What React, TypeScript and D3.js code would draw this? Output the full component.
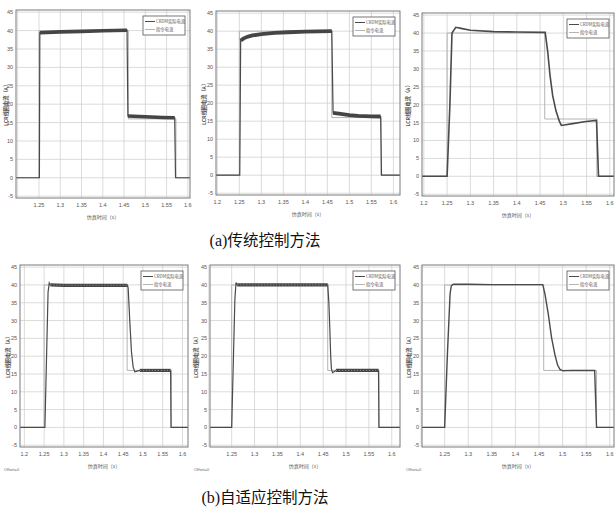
import React from "react";
import * as d3 from "d3";

type Pt = [number, number];

const xTicks = [1.2, 1.25, 1.3, 1.35, 1.4, 1.45, 1.5, 1.55, 1.6];
const yTicks = [-5, 0, 5, 10, 15, 20, 25, 30, 35, 40, 45];
const legendLabels = ["CRDM实际电流", "指令电流"];
const xLabel = "仿真时间（s）";
const yLabel = "LCR线圈电流（A）";
const captionTags = ["(a)", "(b)"];
const captions = ["传统控制方法", "自适应控制方法"];

// command current (same in all six runs)
const command: Pt[] = [
  [1.18, 0], [1.25, 0], [1.25, 40], [1.46, 40], [1.46, 16], [1.572, 16], [1.572, 0], [1.62, 0],
];

// measured CRDM current, traditional control
const actualA1: Pt[] = [
  [1.18, 0], [1.251, 0], [1.252, 39.4], [1.3, 39.65], [1.35, 39.8], [1.4, 39.95], [1.457, 40.1],
  [1.459, 16.8], [1.5, 16.6], [1.54, 16.4], [1.569, 16.3], [1.571, 0], [1.62, 0],
];
const actualA2: Pt[] = [
  [1.18, 0], [1.251, 0], [1.253, 37.4], [1.26, 38.0], [1.27, 38.5], [1.28, 38.8], [1.3, 39.2],
  [1.33, 39.5], [1.36, 39.7], [1.4, 39.85], [1.46, 40.0], [1.463, 17.3], [1.48, 17.0], [1.5, 16.7],
  [1.52, 16.5], [1.55, 16.35], [1.571, 16.3], [1.573, 0], [1.62, 0],
];
const actualA3: Pt[] = [
  [1.18, 0], [1.25, 0], [1.256, 20], [1.2605, 40], [1.2686, 41.6], [1.28, 41.3], [1.3, 40.8],
  [1.35, 40.4], [1.4, 40.3], [1.461, 40.2], [1.4664, 34.8], [1.4714, 28.2], [1.4771, 22.5],
  [1.4843, 18.2], [1.4914, 15.4], [1.4957, 14.2], [1.52, 14.7], [1.5486, 15.3], [1.5714, 15.6],
  [1.5757, 0], [1.62, 0],
];

// measured CRDM current, adaptive control
const actualB1: Pt[] = [
  [1.18, 0], [1.252, 0], [1.26, 38], [1.263, 40.6], [1.266, 40.0], [1.3, 39.9], [1.35, 39.9],
  [1.4, 39.9], [1.461, 39.9], [1.4626, 39.2], [1.4668, 29.7], [1.471, 21.2], [1.4752, 17.0],
  [1.4795, 15.6], [1.4853, 15.8], [1.492, 16.0], [1.53, 16.0], [1.57, 16.0], [1.571, 0], [1.62, 0],
];
const actualB2: Pt[] = [
  [1.18, 0], [1.25, 0], [1.257, 36], [1.2595, 40.7], [1.262, 40.0], [1.3, 40.0], [1.35, 40.0],
  [1.4, 40.0], [1.46, 40.0], [1.4625, 35], [1.4645, 28], [1.4665, 20], [1.468, 16.5],
  [1.4705, 15.4], [1.474, 15.6], [1.478, 16.0], [1.52, 16.0], [1.571, 16.0], [1.572, 0], [1.62, 0],
];
const actualB3: Pt[] = [
  [1.18, 0], [1.25, 0], [1.256, 21], [1.2615, 37.5], [1.264, 39.7], [1.268, 40.2], [1.3, 40.2],
  [1.35, 40.1], [1.4, 40.1], [1.458, 40.1], [1.4627, 37.4], [1.4697, 31.8], [1.4768, 25.1],
  [1.4838, 20.4], [1.4894, 17.5], [1.4944, 16.3], [1.5014, 15.9], [1.52, 16.0], [1.568, 16.0],
  [1.572, 0], [1.62, 0],
];

// time spans where the current carries visible ripple
const rippleA1: Pt[] = [[1.252, 1.457], [1.459, 1.569]];
const rippleA2: Pt[] = [[1.253, 1.46], [1.463, 1.571]];
const rippleB1: Pt[] = [[1.266, 1.461], [1.492, 1.57]];
const rippleB2: Pt[] = [[1.262, 1.46], [1.478, 1.571]];

const panels = [
  { actual: actualA1, ripple: rippleA1, band: 3.6, lw: 1.2, x0: 1.196, x1: 1.605, left: 16, right: 190, top: 10, bottom: 198, firstLabel: false, ylx: 7, offset: false },
  { actual: actualA2, ripple: rippleA2, band: 3.8, lw: 1.2, x0: 1.197, x1: 1.615, left: 216, right: 400, top: 11, bottom: 195, firstLabel: true, ylx: 205, offset: false },
  { actual: actualA3, ripple: [] as Pt[], band: 0, lw: 1.6, x0: 1.196, x1: 1.609, left: 422, right: 614, top: 13, bottom: 196, firstLabel: true, ylx: 409, offset: false },
  { actual: actualB1, ripple: rippleB1, band: 3.2, lw: 1.2, x0: 1.189, x1: 1.614, left: 20, right: 188, top: 265, bottom: 447, firstLabel: true, ylx: 9, offset: true },
  { actual: actualB2, ripple: rippleB2, band: 3.2, lw: 1.2, x0: 1.2026, x1: 1.618, left: 210, right: 400, top: 265, bottom: 447, firstLabel: false, ylx: 197, offset: true },
  { actual: actualB3, ripple: [] as Pt[], band: 0, lw: 1.4, x0: 1.202, x1: 1.609, left: 422, right: 614, top: 265, bottom: 447, firstLabel: false, ylx: 410, offset: true },
];

const tickFont = "'Liberation Sans Narrow', 'Liberation Sans', Arial, sans-serif";
const cjkFont = "'Noto Sans CJK SC', sans-serif";

function Panel({ p, idx }: { p: (typeof panels)[number]; idx: number }) {
  const x = d3.scaleLinear().domain([p.x0, p.x1]).range([p.left, p.right]);
  const y = d3.scaleLinear().domain([-5.5, 45.6]).range([p.bottom, p.top]);
  const line = d3.line<Pt>().x((d) => x(d[0])).y((d) => y(d[1]));
  const clipId = `clip${idx}`;
  const lgW = 42;
  const lgH = 19;
  const lgX = p.right - 5 - lgW;
  const lgY = p.top + 6;
  const midY = (p.top + p.bottom) / 2;

  return (
    <g>
      <clipPath id={clipId}>
        <rect x={p.left} y={p.top} width={p.right - p.left} height={p.bottom - p.top} />
      </clipPath>
      {/* grid */}
      {xTicks.map((t) => (
        <line key={"gx" + t} x1={x(t)} x2={x(t)} y1={p.top} y2={p.bottom} stroke="#d2d2d2" strokeWidth={0.8} />
      ))}
      {yTicks.map((t) => (
        <line key={"gy" + t} x1={p.left} x2={p.right} y1={y(t)} y2={y(t)} stroke="#d2d2d2" strokeWidth={0.8} />
      ))}
      <g clipPath={`url(#${clipId})`}>
        <path d={line(command) || ""} fill="none" stroke="#b4b4b4" strokeWidth={1} />
        <path d={line(p.actual) || ""} fill="none" stroke="#4a4a4a" strokeWidth={p.lw} />
        {p.ripple.map(([a, b], i) => (
          <path
            key={"r" + i}
            d={line(p.actual.filter((d) => d[0] >= a && d[0] <= b)) || ""}
            fill="none"
            stroke="#454545"
            strokeWidth={p.band}
          />
        ))}
        {p.offset &&
          p.ripple.map(([a, b], i) => (
            <path
              key={"rt" + i}
              d={line(p.actual.filter((d) => d[0] >= a && d[0] <= b)) || ""}
              fill="none"
              stroke="#8a8a8a"
              strokeWidth={1}
              strokeDasharray="1.2,1.8"
            />
          ))}
      </g>
      <rect x={p.left} y={p.top} width={p.right - p.left} height={p.bottom - p.top} fill="none" stroke="#7a7a7a" strokeWidth={1} />
      {/* tick labels */}
      {xTicks.map((t, i) =>
        i === 0 && !p.firstLabel ? null : (
          <text key={"tx" + t} x={x(t)} y={p.bottom + 9} fontSize={5.5} fill="#555" textAnchor="middle" fontFamily={tickFont}>
            {d3.format("")(t)}
          </text>
        )
      )}
      {yTicks.map((t) => (
        <text key={"ty" + t} x={p.left - 3} y={y(t) + 2} fontSize={5.5} fill="#555" textAnchor="end" fontFamily={tickFont}>
          {t}
        </text>
      ))}
      <text x={(p.left + p.right) / 2} y={p.bottom + 21} fontSize={5} fill="#555" textAnchor="middle" fontFamily={cjkFont}>
        {xLabel}
      </text>
      <text
        transform={`translate(${p.ylx},${midY}) rotate(-90)`}
        fontSize={5.2}
        fontWeight={700}
        fill="#555"
        textAnchor="middle"
        dominantBaseline="middle"
        fontFamily={cjkFont}
      >
        {yLabel}
      </text>
      {p.offset && (
        <text x={p.left - 16} y={p.bottom + 24} fontSize={4} fill="#666" fontFamily={tickFont}>
          Offset=0
        </text>
      )}
      {/* legend */}
      <rect x={lgX} y={lgY} width={lgW} height={lgH} fill="#fff" stroke="#555" strokeWidth={0.8} />
      {legendLabels.map((lab, i) => (
        <g key={lab}>
          <line
            x1={lgX + 2}
            x2={lgX + 12}
            y1={lgY + 5.5 + i * 8}
            y2={lgY + 5.5 + i * 8}
            stroke={i === 0 ? "#4a4a4a" : "#b4b4b4"}
            strokeWidth={1}
          />
          <text x={lgX + 13} y={lgY + 7.2 + i * 8} fontSize={4.3} fill="#555" fontFamily={cjkFont}>
            {lab}
          </text>
        </g>
      ))}
    </g>
  );
}

export default function App() {
  return (
    <svg
      width={616}
      height={509}
      style={{ position: "absolute", left: 0, top: 0, background: "#fff" }}
    >
      <rect width={616} height={509} fill="#fff" />
      {panels.map((p, i) => (
        <Panel key={i} p={p} idx={i} />
      ))}
      {captions.map((c, i) => (
        <text key={c} x={265} y={i === 0 ? 246 : 503} fontSize={15.5} textAnchor="middle" fill="#111" fontFamily={cjkFont}>
          <tspan fontFamily="'Liberation Serif', serif" fontSize={16}>{captionTags[i]}</tspan>
          {c}
        </text>
      ))}
    </svg>
  );
}
